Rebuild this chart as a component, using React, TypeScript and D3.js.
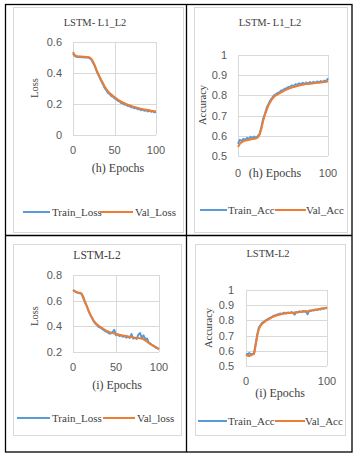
import React from "react";
import * as d3 from "d3";

// ---- Data (epochs sampled every 2) ----
const epochs: number[] = d3.range(0, 101, 2);

const l1l2TrainLoss = [0.525,0.51,0.505,0.503,0.505,0.501,0.503,0.5,0.502,0.499,0.496,0.488,0.468,0.447,0.418,0.393,0.372,0.348,0.328,0.305,0.29,0.272,0.265,0.252,0.248,0.236,0.232,0.22,0.217,0.207,0.205,0.196,0.195,0.187,0.188,0.179,0.18,0.172,0.176,0.166,0.17,0.16,0.165,0.156,0.161,0.152,0.158,0.15,0.155,0.146,0.148];
const l1l2ValLoss = [0.535,0.515,0.51,0.508,0.507,0.506,0.505,0.505,0.504,0.503,0.5,0.492,0.475,0.452,0.425,0.4,0.377,0.355,0.335,0.315,0.298,0.283,0.271,0.262,0.253,0.245,0.237,0.229,0.222,0.216,0.21,0.205,0.2,0.196,0.192,0.188,0.184,0.181,0.178,0.175,0.172,0.169,0.167,0.165,0.163,0.161,0.159,0.157,0.155,0.153,0.151];

const l1l2TrainAcc = [0.56,0.58,0.575,0.585,0.58,0.59,0.585,0.595,0.588,0.596,0.59,0.598,0.61,0.645,0.685,0.71,0.74,0.758,0.776,0.788,0.8,0.805,0.812,0.815,0.824,0.826,0.833,0.835,0.842,0.843,0.85,0.846,0.856,0.852,0.86,0.855,0.862,0.856,0.864,0.858,0.866,0.86,0.867,0.862,0.869,0.864,0.871,0.866,0.873,0.87,0.885];
const l1l2ValAcc = [0.545,0.56,0.568,0.573,0.576,0.578,0.58,0.582,0.584,0.585,0.587,0.592,0.605,0.635,0.675,0.705,0.73,0.752,0.768,0.782,0.793,0.8,0.805,0.81,0.815,0.82,0.825,0.829,0.833,0.836,0.839,0.842,0.844,0.847,0.849,0.851,0.853,0.855,0.856,0.857,0.858,0.859,0.86,0.861,0.862,0.863,0.864,0.865,0.866,0.867,0.87];

const l2TrainLoss = [0.68,0.672,0.665,0.66,0.658,0.65,0.62,0.585,0.56,0.52,0.49,0.465,0.44,0.42,0.41,0.395,0.39,0.38,0.37,0.36,0.355,0.345,0.345,0.355,0.372,0.33,0.338,0.325,0.33,0.318,0.325,0.312,0.318,0.31,0.34,0.305,0.31,0.302,0.335,0.348,0.31,0.33,0.3,0.305,0.275,0.265,0.252,0.245,0.235,0.228,0.222];
const l2ValLoss = [0.684,0.675,0.668,0.664,0.662,0.655,0.63,0.59,0.555,0.525,0.495,0.468,0.445,0.428,0.415,0.405,0.395,0.386,0.377,0.368,0.362,0.356,0.351,0.347,0.343,0.34,0.337,0.334,0.331,0.329,0.326,0.324,0.321,0.318,0.316,0.314,0.312,0.31,0.309,0.307,0.304,0.299,0.29,0.28,0.27,0.262,0.255,0.247,0.24,0.232,0.225];

const l2TrainAcc = [0.58,0.575,0.585,0.575,0.58,0.585,0.65,0.71,0.755,0.77,0.785,0.79,0.8,0.805,0.812,0.818,0.822,0.83,0.832,0.838,0.84,0.845,0.843,0.848,0.85,0.846,0.852,0.848,0.855,0.85,0.838,0.855,0.852,0.86,0.855,0.862,0.858,0.862,0.84,0.865,0.862,0.868,0.865,0.872,0.868,0.876,0.872,0.879,0.876,0.882,0.878];
const l2ValAcc = [0.574,0.568,0.565,0.57,0.575,0.58,0.64,0.7,0.745,0.765,0.778,0.787,0.795,0.802,0.808,0.814,0.82,0.825,0.829,0.833,0.836,0.839,0.842,0.844,0.846,0.847,0.848,0.849,0.85,0.851,0.852,0.853,0.854,0.855,0.856,0.857,0.858,0.859,0.86,0.862,0.864,0.866,0.868,0.87,0.872,0.874,0.876,0.878,0.88,0.882,0.885];

const lossTicksL1 = [0, 0.2, 0.4, 0.6];
const lossTicksL2 = [0.2, 0.4, 0.6, 0.8];
const accTicks = [0.5, 0.6, 0.7, 0.8, 0.9, 1];
const xTicksFull = [0, 50, 100];
const xTicksEnds = [0, 100];

const titles = ["LSTM- L1_L2", "LSTM- L1_L2", "LSTM-L2", "LSTM-L2"];
const xTitles = ["(h) Epochs", "(h) Epochs", "(i) Epochs", "(i) Epochs"];
const yTitles = ["Loss", "Accuracy", "Loss", "Accuracy"];
const trainNames = ["Train_Loss", "Train_Acc", "Train_Loss", "Train_Acc"];
const valNames = ["Val_Loss", "Val_Acc", "Val_loss", "Val_Acc"];

// ---- Layout ----
const BLUE = "#5b9bd5";
const ORANGE = "#ed7d31";
const GRID = "#d9d9d9";
const TXT = "#404040";
const TICK = "#595959";
const SERIF = "'Liberation Serif', 'Times New Roman', serif";
const SANS = "'Liberation Sans', Arial, sans-serif";

type Panel = {
  frame: [number, number, number, number];
  plot: { x0: number; x1: number; y0: number; y1: number };
  yDomain: [number, number];
  yTicks: number[];
  yFmt: (v: number) => string;
  yLabelRight: number;
  xTicks: number[];
  vgrid: number[];
  xLabelY: number;
  title: [number, number, number];
  xTitle: [number, number];
  yTitle: [number, number];
  legend: { y: number; b: [number, number, number]; o: [number, number, number] };
  train: number[];
  val: number[];
};

const fmtLoss = (v: number) => (v === 0 ? "0" : d3.format(".1f")(v));
const fmtAcc = (v: number) => (v === 1 ? "1" : d3.format(".1f")(v));

const panels: Panel[] = [
  {
    frame: [13, 7, 170, 225],
    plot: { x0: 73, x1: 156, y0: 42, y1: 135 },
    yDomain: [0, 0.6], yTicks: lossTicksL1, yFmt: fmtLoss, yLabelRight: 62,
    xTicks: xTicksFull, vgrid: xTicksFull, xLabelY: 154,
    title: [95, 26, 10.5], xTitle: [118, 172], yTitle: [38, 88],
    legend: { y: 212, b: [23, 50, 52], o: [100, 133, 135] },
    train: l1l2TrainLoss, val: l1l2ValLoss,
  },
  {
    frame: [194, 7, 153, 225],
    plot: { x0: 238, x1: 328, y0: 55, y1: 156 },
    yDomain: [0.5, 1], yTicks: accTicks, yFmt: fmtAcc, yLabelRight: 227,
    xTicks: xTicksEnds, vgrid: xTicksEnds, xLabelY: 177,
    title: [270, 26, 10.5], xTitle: [275, 177], yTitle: [206, 105],
    legend: { y: 210, b: [200, 227, 228], o: [275, 306, 306] },
    train: l1l2TrainAcc, val: l1l2ValAcc,
  },
  {
    frame: [13, 244, 168, 191],
    plot: { x0: 73, x1: 159, y0: 275, y1: 352 },
    yDomain: [0.2, 0.8], yTicks: lossTicksL2, yFmt: fmtLoss, yLabelRight: 62,
    xTicks: xTicksFull, vgrid: xTicksFull, xLabelY: 371,
    title: [97, 259, 11.5], xTitle: [117, 389], yTitle: [38, 316],
    legend: { y: 418, b: [17, 50, 52], o: [103, 135, 137] },
    train: l2TrainLoss, val: l2ValLoss,
  },
  {
    frame: [195, 244, 150, 191],
    plot: { x0: 246, x1: 327, y0: 290, y1: 366 },
    yDomain: [0.5, 1], yTicks: accTicks, yFmt: fmtAcc, yLabelRight: 234,
    xTicks: xTicksEnds, vgrid: xTicksEnds, xLabelY: 385,
    title: [268, 257, 10.5], xTitle: [280, 397], yTitle: [212, 328],
    legend: { y: 421, b: [198, 227, 228], o: [275, 305, 305] },
    train: l2TrainAcc, val: l2ValAcc,
  },
];

function Chart({ p, i }: { p: Panel; i: number }) {
  const x = d3.scaleLinear().domain([0, 100]).range([p.plot.x0, p.plot.x1]);
  const y = d3.scaleLinear().domain(p.yDomain).range([p.plot.y1, p.plot.y0]);
  const line = d3
    .line<number>()
    .x((_, k) => x(epochs[k]))
    .y((d) => y(d));
  const [fx, fy, fw, fh] = p.frame;
  return (
    <g>
      <rect x={fx + 0.5} y={fy + 0.5} width={fw} height={fh} fill="#fff" stroke={GRID} strokeWidth={1} />
      {p.yTicks.map((t) => (
        <line key={"h" + t} x1={p.plot.x0} x2={p.plot.x1} y1={Math.round(y(t)) + 0.5} y2={Math.round(y(t)) + 0.5} stroke={GRID} strokeWidth={1} />
      ))}
      {p.vgrid.map((t) => (
        <line key={"v" + t} x1={Math.round(x(t)) + 0.5} x2={Math.round(x(t)) + 0.5} y1={p.plot.y0} y2={p.plot.y1} stroke={GRID} strokeWidth={1} />
      ))}
      {p.yTicks.map((t) => (
        <text key={"yl" + t} x={p.yLabelRight} y={y(t) + 4} textAnchor="end" fontFamily={SANS} fontSize={11} fill={TICK}>
          {p.yFmt(t)}
        </text>
      ))}
      {p.xTicks.map((t) => (
        <text key={"xl" + t} x={x(t)} y={p.xLabelY} textAnchor="middle" fontFamily={SANS} fontSize={11} fill={TICK}>
          {t}
        </text>
      ))}
      <path d={line(p.train) || ""} fill="none" stroke={BLUE} strokeWidth={2} strokeLinejoin="round" />
      <path d={line(p.val) || ""} fill="none" stroke={ORANGE} strokeWidth={2} strokeLinejoin="round" />
      <text x={p.title[0]} y={p.title[1]} textAnchor="middle" fontFamily={SERIF} fontSize={p.title[2]} fill={TXT}>
        {titles[i]}
      </text>
      <text x={p.xTitle[0]} y={p.xTitle[1]} textAnchor="middle" fontFamily={SERIF} fontSize={12} fill={TXT}>
        {xTitles[i]}
      </text>
      <text
        transform={`translate(${p.yTitle[0]},${p.yTitle[1]}) rotate(-90)`}
        textAnchor="middle"
        fontFamily={SERIF}
        fontSize={10.5}
        fill={TXT}
      >
        {yTitles[i]}
      </text>
      <line x1={p.legend.b[0]} x2={p.legend.b[1]} y1={p.legend.y} y2={p.legend.y} stroke={BLUE} strokeWidth={2} />
      <text x={p.legend.b[2]} y={p.legend.y + 4} fontFamily={SERIF} fontSize={11} fill={TXT}>
        {trainNames[i]}
      </text>
      <line x1={p.legend.o[0]} x2={p.legend.o[1]} y1={p.legend.y} y2={p.legend.y} stroke={ORANGE} strokeWidth={2} />
      <text x={p.legend.o[2]} y={p.legend.y + 4} fontFamily={SERIF} fontSize={11} fill={TXT}>
        {valNames[i]}
      </text>
    </g>
  );
}

export default function App() {
  return (
    <svg
      width={360}
      height={456}
      style={{ position: "absolute", left: 0, top: 0, background: "#fff" }}
    >
      <rect x={0} y={0} width={360} height={456} fill="#fff" />
      {panels.map((p, i) => (
        <Chart key={i} p={p} i={i} />
      ))}
      {/* table borders */}
      <rect x={5.5} y={4.5} width={346.5} height={447.5} fill="none" stroke="#000" strokeWidth={1.3} />
      <line x1={186.5} x2={186.5} y1={4} y2={452} stroke="#000" strokeWidth={1.3} />
      <line x1={5} x2={352} y1={235.5} y2={235.5} stroke="#000" strokeWidth={1.3} />
    </svg>
  );
}
